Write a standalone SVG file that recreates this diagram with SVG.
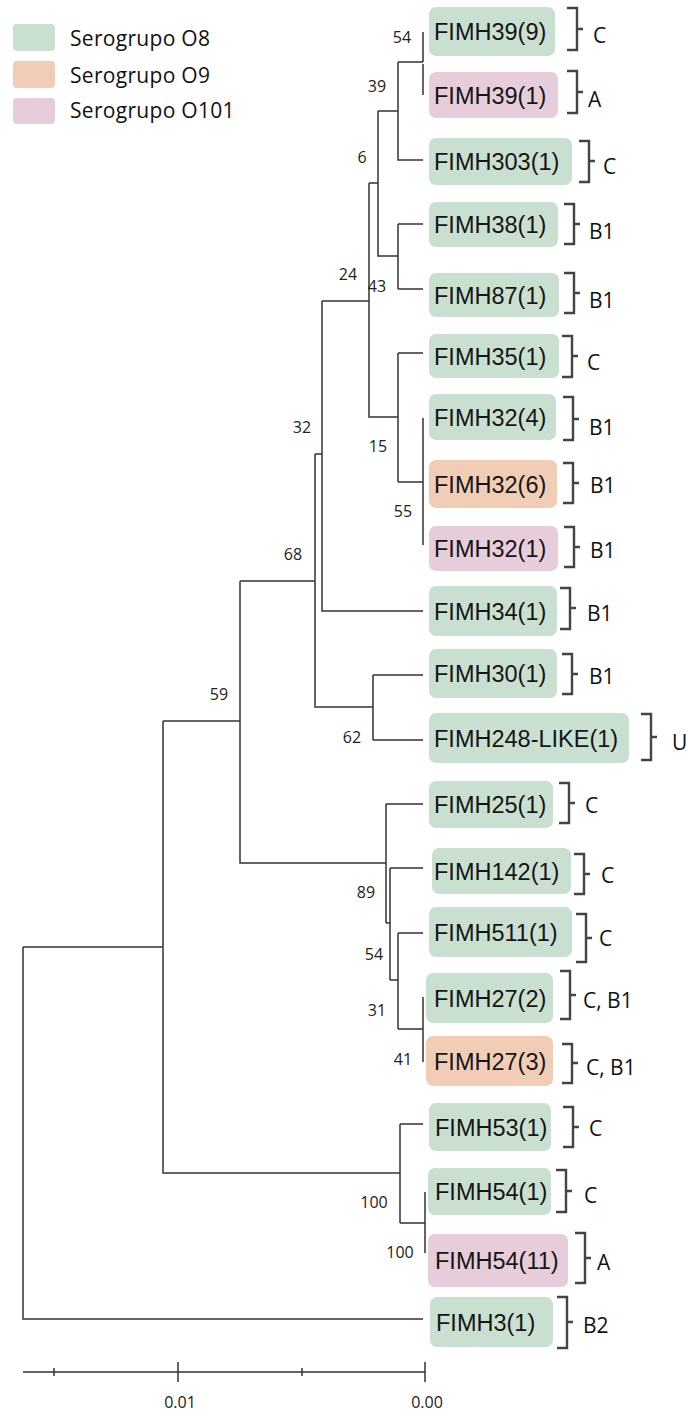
<svg xmlns="http://www.w3.org/2000/svg" width="688" height="1416" viewBox="0 0 688 1416">
<style>
.g{fill:#c9dfcf}.o{fill:#f1cdb5}.p{fill:#e6cdd9}
.lt{font-family:"Open Sans","Liberation Sans",sans-serif;font-size:21px;letter-spacing:0.3px;fill:#111}
.nm{font-family:"Liberation Sans",Arial,sans-serif;font-size:23.5px;fill:#151515}
.br{fill:none;stroke:#444;stroke-width:2.4}
.ph{font-family:"Open Sans","Liberation Sans",sans-serif;font-size:21px;fill:#111}
.bs{font-family:"Open Sans","Liberation Sans",sans-serif;font-size:16px;fill:#222;text-anchor:middle}
.ln{fill:none;stroke:#333;stroke-width:1.5}
.ax{font-family:"Open Sans","Liberation Sans",sans-serif;font-size:16px;fill:#222;text-anchor:middle}
</style>
<rect width="688" height="1416" fill="#fff"/>
<g id="legend">
<rect class="g" x="13" y="24" width="42" height="27" rx="4"/>
<rect class="o" x="13" y="61" width="42" height="27" rx="4"/>
<rect class="p" x="13" y="98" width="42" height="26" rx="4"/>
<text class="lt" x="70" y="46">Serogrupo O8</text>
<text class="lt" x="70" y="83">Serogrupo O9</text>
<text class="lt" x="70" y="118">Serogrupo O101</text>
</g>
<g id="connectors">
<path class="ln" d="M423 32V62M423 64V95M398 62H423M398 62V160H423M378 111H398M378 111V256H398M398 224V289M398 224H423M398 289H423M369 183H378M369 183V417H398M398 353V482M398 353H423M398 482H423M423 418V545M322 301H369M322 301V611H423M315 454H322M315 454V707H373M373 675V740M373 675H423M373 740H423M240 581H315M240 581V863H386M386 804V923M386 804H423M386 923H390M390 868V980M390 868H423M390 980H398M398 933V1029M398 933H423M398 1029H423M423 997V1062M163 721H240M163 721V1173H400M400 1124V1223M400 1124H423M400 1223H425M425 1192V1253M23 947H163M23 947V1319H423"/>
</g>
<g id="bootstrap">
<text class="bs" x="402" y="43">54</text>
<text class="bs" x="377" y="92">39</text>
<text class="bs" x="362" y="163">6</text>
<text class="bs" x="348" y="280">24</text>
<text class="bs" x="377" y="292">43</text>
<text class="bs" x="302" y="433">32</text>
<text class="bs" x="378" y="452">15</text>
<text class="bs" x="403" y="517">55</text>
<text class="bs" x="293" y="560">68</text>
<text class="bs" x="352" y="743">62</text>
<text class="bs" x="219" y="700">59</text>
<text class="bs" x="366" y="898">89</text>
<text class="bs" x="374" y="960">54</text>
<text class="bs" x="377" y="1016">31</text>
<text class="bs" x="403" y="1065">41</text>
<text class="bs" x="374" y="1208">100</text>
<text class="bs" x="400" y="1258">100</text>
</g>
<g id="leaf-FIMH39-9"><rect class="g" x="429" y="7" width="126" height="49" rx="7"/><text class="nm" x="434" y="40">FIMH39(9)</text><path class="br" d="M567 8H577V50H567M577 29H583"/><text class="ph" x="593" y="43">C</text></g>
<g id="leaf-FIMH39-1"><rect class="p" x="429" y="72" width="129" height="46" rx="7"/><text class="nm" x="434" y="103.5">FIMH39(1)</text><path class="br" d="M567 71H577V113H567M577 92H583"/><text class="ph" x="588" y="107">A</text></g>
<g id="leaf-FIMH303-1"><rect class="g" x="429" y="138" width="143" height="47" rx="7"/><text class="nm" x="434" y="170">FIMH303(1)</text><path class="br" d="M579 141H589V182H579M589 161H595"/><text class="ph" x="603" y="174">C</text></g>
<g id="leaf-FIMH38-1"><rect class="g" x="429" y="202" width="129" height="45" rx="7"/><text class="nm" x="434" y="233">FIMH38(1)</text><path class="br" d="M564 204H574V244H564M574 224H580"/><text class="ph" x="589" y="239">B1</text></g>
<g id="leaf-FIMH87-1"><rect class="g" x="429" y="273" width="130" height="44" rx="7"/><text class="nm" x="434" y="303.5">FIMH87(1)</text><path class="br" d="M564 273H574V313H564M574 293H580"/><text class="ph" x="589" y="308">B1</text></g>
<g id="leaf-FIMH35-1"><rect class="g" x="429" y="334" width="130" height="44" rx="7"/><text class="nm" x="434" y="364.5">FIMH35(1)</text><path class="br" d="M562 336H572V377H562M572 356H578"/><text class="ph" x="587" y="370">C</text></g>
<g id="leaf-FIMH32-4"><rect class="g" x="429" y="394" width="127" height="46" rx="7"/><text class="nm" x="434" y="425.5">FIMH32(4)</text><path class="br" d="M563 397H573V440H563M573 419H579"/><text class="ph" x="589" y="435">B1</text></g>
<g id="leaf-FIMH32-6"><rect class="o" x="429" y="460" width="128" height="48" rx="7"/><text class="nm" x="434" y="492.5">FIMH32(6)</text><path class="br" d="M563 463H573V503H563M573 483H579"/><text class="ph" x="590" y="493">B1</text></g>
<g id="leaf-FIMH32-1"><rect class="p" x="429" y="526" width="129" height="45" rx="7"/><text class="nm" x="434" y="557">FIMH32(1)</text><path class="br" d="M564 527H574V567H564M574 547H580"/><text class="ph" x="590" y="558">B1</text></g>
<g id="leaf-FIMH34-1"><rect class="g" x="429" y="586" width="128" height="50" rx="7"/><text class="nm" x="434" y="619.5">FIMH34(1)</text><path class="br" d="M560 588H570V629H560M570 608H576"/><text class="ph" x="587" y="621">B1</text></g>
<g id="leaf-FIMH30-1"><rect class="g" x="429" y="649" width="128" height="49" rx="7"/><text class="nm" x="434" y="682">FIMH30(1)</text><path class="br" d="M562 654H572V694H562M572 674H578"/><text class="ph" x="589" y="684">B1</text></g>
<g id="leaf-FIMH248-LIKE-1"><rect class="g" x="429" y="713" width="200" height="50" rx="7"/><text class="nm" x="434" y="746.5">FIMH248-LIKE(1)</text><path class="br" d="M641 714H651V760H641M651 737H657"/><text class="ph" x="672" y="750">U</text></g>
<g id="leaf-FIMH25-1"><rect class="g" x="429" y="781" width="124" height="47" rx="7"/><text class="nm" x="434" y="813">FIMH25(1)</text><path class="br" d="M559 783H569V823H559M569 803H575"/><text class="ph" x="585" y="813">C</text></g>
<g id="leaf-FIMH142-1"><rect class="g" x="432" y="848" width="139" height="46" rx="7"/><text class="nm" x="434" y="879.5">FIMH142(1)</text><path class="br" d="M574 854H584V894H574M584 874H590"/><text class="ph" x="601" y="883">C</text></g>
<g id="leaf-FIMH511-1"><rect class="g" x="429" y="907" width="143" height="50" rx="7"/><text class="nm" x="434" y="940.5">FIMH511(1)</text><path class="br" d="M576 914H586V962H576M586 938H592"/><text class="ph" x="599" y="946">C</text></g>
<g id="leaf-FIMH27-2"><rect class="g" x="426" y="973" width="127" height="50" rx="7"/><text class="nm" x="434" y="1006.5">FIMH27(2)</text><path class="br" d="M560 971H570V1019H560M570 995H576"/><text class="ph" x="583" y="1008">C, B1</text></g>
<g id="leaf-FIMH27-3"><rect class="o" x="426" y="1036" width="127" height="50" rx="7"/><text class="nm" x="434" y="1069.5">FIMH27(3)</text><path class="br" d="M562 1044H572V1083H562M572 1063H578"/><text class="ph" x="586" y="1075">C, B1</text></g>
<g id="leaf-FIMH53-1"><rect class="g" x="429" y="1103" width="122" height="48" rx="7"/><text class="nm" x="435" y="1135.5">FIMH53(1)</text><path class="br" d="M563 1107H573V1147H563M573 1127H579"/><text class="ph" x="589" y="1136">C</text></g>
<g id="leaf-FIMH54-1"><rect class="g" x="428" y="1168" width="123" height="47" rx="7"/><text class="nm" x="435" y="1200">FIMH54(1)</text><path class="br" d="M556 1170H566V1212H556M566 1191H572"/><text class="ph" x="584" y="1203">C</text></g>
<g id="leaf-FIMH54-11"><rect class="p" x="428" y="1234" width="140" height="53" rx="7"/><text class="nm" x="435" y="1269">FIMH54(11)</text><path class="br" d="M575 1233H585V1283H575M585 1258H591"/><text class="ph" x="597" y="1270">A</text></g>
<g id="leaf-FIMH3-1"><rect class="g" x="430" y="1297" width="123" height="50" rx="7"/><text class="nm" x="436" y="1330.5">FIMH3(1)</text><path class="br" d="M557 1297H567V1348H557M567 1322H573"/><text class="ph" x="583" y="1333">B2</text></g>
<g id="scale">
<path class="ln" d="M23 1372H425M178 1362V1382M425 1362V1382M54 1368V1376M302 1368V1376"/>
<text class="ax" x="180" y="1408">0.01</text>
<text class="ax" x="427" y="1408">0.00</text>
</g>
</svg>
